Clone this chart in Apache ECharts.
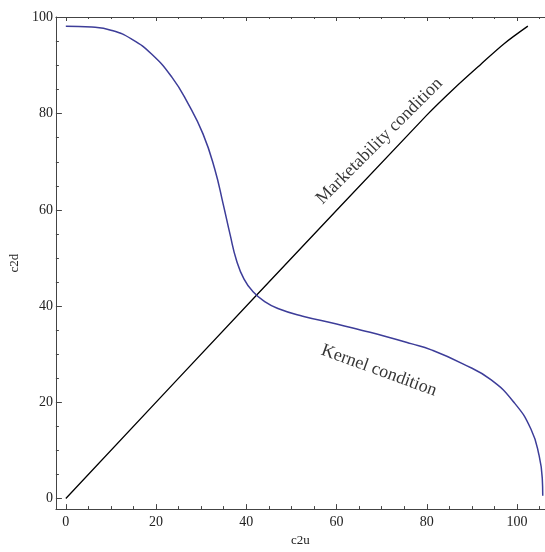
<!DOCTYPE html>
<html>
<head>
<meta charset="utf-8">
<script src="https://cdn.jsdelivr.net/npm/echarts@6/dist/echarts.min.js"></script>
<style>
  html, body { margin: 0; padding: 0; background: #fff; }
  #chart { width: 545px; height: 552px; }
</style>
</head>
<body>
<div id="chart"></div>
<script>
// Kernel condition curve (c2u, c2d)
const kernelX = [0, 5.75, 10.2, 14.6, 19.0, 23.5, 27.1, 30.4, 33.0, 34.9, 36.4, 37.8, 39.5, 41.5, 44.0, 47.0, 52.5, 60.0, 65.5, 70.5, 76.5, 81.0, 88.0, 94.2, 99.4, 103.1, 104.9, 105.6, 105.7];
const kernelY = [98.2, 98.0, 97.3, 95.5, 92.4, 87.6, 82.1, 75.8, 68.5, 61.1, 54.9, 49.6, 45.6, 43.0, 41.0, 39.5, 37.9, 36.3, 35.0, 33.8, 32.2, 30.9, 28.0, 24.7, 19.9, 14.4, 8.9, 4.1, 0.6];

// Marketability condition line
const marketX = [0, 42.2, 80.0, 86.0, 92.0, 97.2, 102.4];
const marketY = [0, 42.2, 79.7, 85.2, 90.3, 94.6, 98.2];

// Axis ranges and ticks
const xRange = [-2.2, 106.2];
const yRange = [-2.2, 100.1];
const majorTicks = [0, 20, 40, 60, 80, 100];
const minorTicks = [5, 10, 15, 25, 30, 35, 45, 50, 55, 65, 70, 75, 85, 90, 95, 105];

// Curve annotations: [c2u, c2d, text]
const annotations = [
  [69.5, 74.3, 'Marketability condition'],
  [69.4, 26.6, 'Kernel condition']
];

const zip = (xs, ys) => xs.map((x, i) => [x, ys[i]]);

const frameColor = '#444';
const serif = 'Liberation Serif';

function axisSet(dim, range, position, opts) {
  const base = {
    type: 'value', min: range[0], max: range[1], position: position,
    splitLine: { show: false },
    axisLine: { show: false, onZero: false, lineStyle: { color: frameColor, width: 1 } },
    axisLabel: { show: false },
    axisTick: { show: true, inside: true, lineStyle: { color: frameColor, width: 1 } }
  };
  const major = JSON.parse(JSON.stringify(base));
  major.axisLine.show = true;
  major.axisTick.length = opts.majorLen;
  major.axisTick.customValues = majorTicks;
  if (opts.labels) {
    major.axisLabel = {
      show: true, customValues: majorTicks, color: '#222',
      fontFamily: serif, fontSize: 14, margin: opts.margin
    };
    major.name = opts.name;
    major.nameLocation = 'middle';
    major.nameGap = opts.nameGap;
    major.nameTextStyle = { fontFamily: serif, fontSize: 13, color: '#222' };
    if (dim === 'y') major.nameRotate = 90;
  }
  const minor = JSON.parse(JSON.stringify(base));
  minor.axisTick.length = opts.minorLen;
  minor.axisTick.customValues = minorTicks;
  return [major, minor];
}

const xAxes = [
  ...axisSet('x', xRange, 'bottom', { majorLen: 5, minorLen: 3, labels: true, margin: 6, name: 'c2u', nameGap: 24 }),
  ...axisSet('x', xRange, 'top', { majorLen: 4, minorLen: 2, labels: false })
];
const yAxes = [
  ...axisSet('y', yRange, 'left', { majorLen: 6, minorLen: 3, labels: true, margin: 3, name: 'c2d', nameGap: 32 })
];

const chart = echarts.init(document.getElementById('chart'), null, { renderer: 'canvas' });
chart.setOption({
  animation: false,
  backgroundColor: '#fff',
  grid: { left: 54, right: 0, top: 17, bottom: 38.5, containLabel: false },
  xAxis: xAxes,
  yAxis: yAxes,
  series: [
    {
      name: 'Marketability condition', type: 'line', data: zip(marketX, marketY),
      showSymbol: false, smooth: 0.3,
      lineStyle: { color: '#000', width: 1.3 }
    },
    {
      name: 'Kernel condition', type: 'line', data: zip(kernelX, kernelY),
      showSymbol: false, smooth: 0.5,
      lineStyle: { color: '#3d3d99', width: 1.5 }
    },
    {
      type: 'scatter', symbolSize: 0, silent: true,
      data: annotations.map((a, i) => ({
        value: [a[0], a[1]],
        label: {
          show: true, position: 'inside', formatter: a[2],
          rotate: i === 0 ? 45 : -20,
          fontFamily: serif, fontSize: 18, color: '#000'
        }
      }))
    }
  ]
});
</script>
</body>
</html>
